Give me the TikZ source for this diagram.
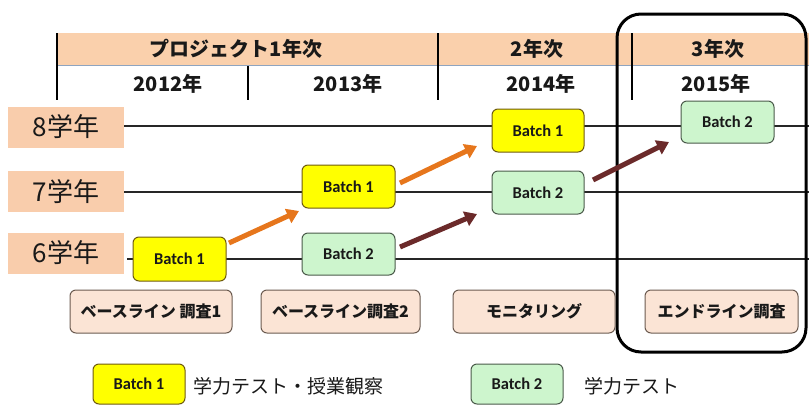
\documentclass[tikz,border=0pt]{standalone}
\usepackage{fontspec}
\setmainfont{Carlito}
\newfontfamily\jp{Noto Sans CJK JP}
\usetikzlibrary{arrows.meta}
\definecolor{bandc}{HTML}{FAD0AC}
\definecolor{bandline}{HTML}{8EA4C0}
\definecolor{gradec}{HTML}{F9CDAC}
\definecolor{surveyc}{HTML}{FBE4D5}
\definecolor{surveyb}{HTML}{6B5B50}
\definecolor{yel}{HTML}{FFFF00}
\definecolor{yelb}{HTML}{6E5A10}
\definecolor{grn}{HTML}{CDF5CD}
\definecolor{grnb}{HTML}{4A5A4A}
\definecolor{orng}{HTML}{E6761C}
\definecolor{dred}{HTML}{6B2A2A}
\tikzset{
  hdr/.style={font=\jp\bfseries\fontsize{20}{24}\selectfont, text=black!90},
  gradebox/.style={fill=gradec, minimum width=116pt, minimum height=41pt, inner sep=0pt,
    font=\jp\fontsize{26}{30}\selectfont, text=black!90},
  batch/.style={draw, line width=1pt, rounded corners=6pt, inner sep=0pt,
    font=\bfseries\fontsize{16.5}{19}\selectfont, text=black!90},
  b1/.style={batch, fill=yel, draw=yelb},
  b2/.style={batch, fill=grn, draw=grnb},
  survey/.style={draw=surveyb, fill=surveyc, line width=1pt, rounded corners=6pt,
    minimum height=43pt, inner sep=0pt, font=\jp\bfseries\fontsize{16}{19}\selectfont, text=black!90},
  legtext/.style={anchor=west, inner sep=0pt, font=\jp\fontsize{19}{23}\selectfont, text=black!90},
  bigarrow/.style={line width=5pt, -{Triangle[length=12pt,width=15pt]}},
  gridline/.style={line width=1.2pt, black!85},
  sepline/.style={line width=1.6pt, black}
}
\begin{document}
\begin{tikzpicture}[x=1pt,y=-1pt]
\useasboundingbox (0,0) rectangle (809,405);
% header band
\fill[bandc] (57,33) rectangle (809,65);
\draw[bandline, line width=0.8pt] (57,65.5) -- (809,65.5);
\draw[sepline] (57,33) -- (57,100);
\draw[sepline] (248,66) -- (248,100);
\draw[sepline] (438,33) -- (438,100);
\draw[sepline] (632,33) -- (632,100);
\node[hdr] (h1) at (236,49) {プロジェクト1年次};
\node[hdr] (h2) at (537,49) {2年次};
\node[hdr] (h3) at (718,49) {3年次};
\node[hdr] (y12) at (168,84) {2012年};
\node[hdr] (y13) at (348,84) {2013年};
\node[hdr] (y14) at (541,84) {2014年};
\node[hdr] (y15) at (716,84) {2015年};
% grade rows
\node[gradebox] (g8) at (66,127) {8学年};
\node[gradebox] (g7) at (66,191.5) {7学年};
\node[gradebox] (g6) at (66,253) {6学年};
\draw[gridline] (124,126) -- (809,126);
\draw[gridline] (124,192) -- (809,192);
\draw[gridline] (127,259) -- (809,259);
% year-3 frame
\draw[line width=3pt, rounded corners=24pt] (617,14) rectangle (806,352);
% batch boxes
\node[b1, minimum width=93pt, minimum height=44pt] (b61) at (179.5,259) {Batch 1};
\node[b1, minimum width=93pt, minimum height=43pt] (b71) at (348.5,186.5) {Batch 1};
\node[b2, minimum width=93pt, minimum height=42pt] (b62) at (348.5,254) {Batch 2};
\node[b1, minimum width=92pt, minimum height=43pt] (b81) at (538,130.5) {Batch 1};
\node[b2, minimum width=92pt, minimum height=43pt] (b72) at (538,192.5) {Batch 2};
\node[b2, minimum width=93pt, minimum height=42pt] (b82) at (727.5,122) {Batch 2};
% arrows
\coordinate (a1s) at (229,243); \coordinate (a1e) at (299,211);
\coordinate (a2s) at (400,183); \coordinate (a2e) at (477,146);
\coordinate (a3s) at (400,247); \coordinate (a3e) at (477,214);
\coordinate (a4s) at (593,180); \coordinate (a4e) at (669,142);
\draw[bigarrow, orng] (a1s) -- (a1e);
\draw[bigarrow, orng] (a2s) -- (a2e);
\draw[bigarrow, dred] (a3s) -- (a3e);
\draw[bigarrow, dred] (a4s) -- (a4e);
% surveys
\node[survey, minimum width=162pt] (s1) at (151,311.5) {ベースライン 調査1};
\node[survey, minimum width=159pt] (s2) at (340.5,311.5) {ベースライン調査2};
\node[survey, minimum width=162pt] (s3) at (534,311.5) {モニタリング};
\node[survey, minimum width=153pt] (s4) at (721.5,311.5) {エンドライン調査};
% legend
\node[b1, minimum width=92pt, minimum height=40pt] (l1) at (139,384) {Batch 1};
\node[legtext] (l1t) at (193,386) {学力テスト・授業観察};
\node[b2, minimum width=92pt, minimum height=40pt] (l2) at (517,384) {Batch 2};
\node[legtext] (l2t) at (584,386) {学力テスト};
\end{tikzpicture}
\end{document}
